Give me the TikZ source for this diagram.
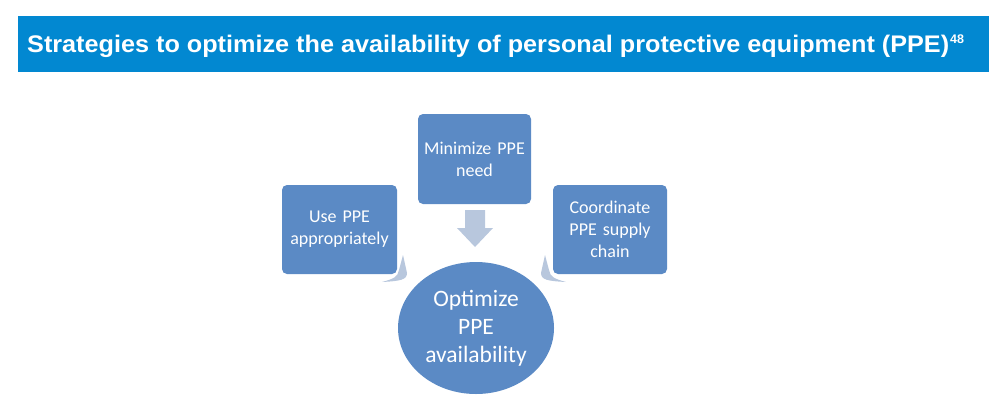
\documentclass[tikz,border=0pt]{standalone}
\usepackage{fontspec}
\setmainfont{Carlito}
\newfontfamily\titlefont{Liberation Sans}
\usetikzlibrary{shapes.geometric}
\definecolor{banner}{HTML}{0288D1}
\definecolor{boxblue}{HTML}{5B8AC5}
\definecolor{arrowgray}{HTML}{B8C7DD}
\begin{document}
\begin{tikzpicture}[x=1pt,y=-1pt,
  stratbox/.style={rectangle, rounded corners=5pt, fill=boxblue, text=white,
    inner sep=0pt, align=center, text width=108pt,
    font=\fontsize{18}{22}\selectfont},
  goal/.style={ellipse, fill=boxblue, text=white, inner sep=0pt,
    minimum width=156pt, minimum height=132pt, align=center,
    font=\fontsize{23.5}{28}\selectfont},
  convarrow/.style={fill=arrowgray, draw=none}]
\useasboundingbox (0,0) rectangle (1000,410);
% banner
\fill[banner] (18,16) rectangle (989,72);
\node[anchor=base west, inner sep=0pt, text=white, font=\titlefont\bfseries\fontsize{24}{24}\selectfont] (title) at (27,52)
  {\resizebox{922pt}{\height}{Strategies to optimize the availability of personal protective equipment (PPE)}};
\node[anchor=base west, inner sep=0pt, text=white, font=\titlefont\bfseries\fontsize{12.5}{12.5}\selectfont] (sup) at (950,43) {48};
% boxes
\node[stratbox, minimum width=113pt, minimum height=90pt] (need) at (474.5,159) {Minimize PPE\\need};
\node[stratbox, minimum width=115pt, minimum height=89pt] (use) at (339.5,229.5) {Use PPE\\appropriately};
\node[stratbox, minimum width=114pt, minimum height=89pt] (chain) at (610,229.5) {Coordinate\\PPE supply\\chain};
\node[goal] (opt) at (476,328) {Optimize\\PPE\\availability};
% arrows
\fill[convarrow] (465,210) -- (485,210) -- (485,228) -- (493,228) -- (475,247) -- (457,228) -- (465,228) -- cycle;
\fill[convarrow] (545,255) -- (541,273) .. controls (541,280) and (548,281) .. (566,282)
  .. controls (555,279) and (550,277) .. (549,270) -- cycle;
\fill[convarrow] (403,255) -- (407,273) .. controls (407,280) and (400,281) .. (382,282)
  .. controls (393,279) and (398,277) .. (399,270) -- cycle;
\end{tikzpicture}
\end{document}
